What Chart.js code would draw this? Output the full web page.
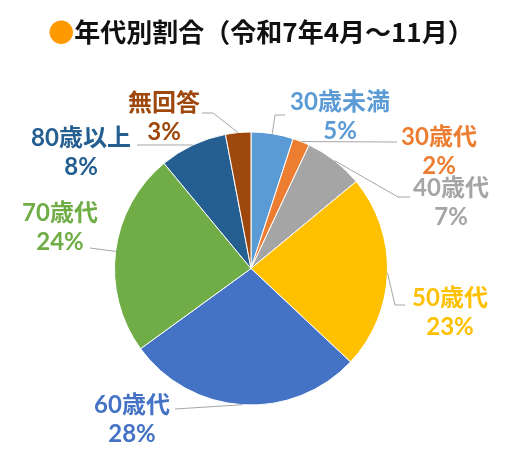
<!DOCTYPE html>
<html>
<head>
<meta charset="utf-8">
<script src="https://cdn.jsdelivr.net/npm/chart.js@4.4.1/dist/chart.umd.min.js"></script>
<style>
html,body{margin:0;padding:0;background:#fff;}
#wrap{width:514px;height:464px;}
</style>
</head>
<body>
<div id="wrap"><canvas id="c" width="514" height="464"></canvas></div>
<script>
// ---- data ----
const categories = ["30歳未満", "30歳代", "40歳代", "50歳代", "60歳代", "70歳代", "80歳以上", "無回答"];
const percents = [5, 2, 7, 23, 28, 24, 8, 3];
const colors = ["#5B9BD5", "#ED7D31", "#A5A5A5", "#FFC000", "#4472C4", "#70AD47", "#255E91", "#9E480E"];
const titleMark = "●";
const titleText = "年代別割合（令和7年4月～11月）";

// ---- label layout (offsets relative to pie centre, px) ----
const labelLayout = [
  {dx: 89,   dy: -166, pts: [[24, -153.5], [34, -153.5]]},
  {dx: 188,  dy: -131, pts: [[146, -126.5]]},
  {dx: 200,  dy: -80,  pts: [[147, -71.5], [159, -71.5]]},
  {dx: 199,  dy: 30,   pts: [[144, 36.5], [154, 36.5]]},
  {dx: -119, dy: 137,  pts: [[-76, 140.5]]},
  {dx: -191, dy: -55,  pts: [[-161, -20.5]]},
  {dx: -170, dy: -130, pts: [[-114, -123.5]]},
  {dx: -87,  dy: -165, pts: [[-38, -155.5], [-49, -155.5]]}
];

const labelFont = "bold 24px 'Lato', 'Noto Sans CJK JP', sans-serif";
const lineGap = 29;

const labelPlugin = {
  id: 'pieLabels',
  afterDatasetsDraw(chart) {
    const ctx = chart.ctx;
    const meta = chart.getDatasetMeta(0);
    ctx.save();
    meta.data.forEach((arc, i) => {
      const p = arc.getProps(['x', 'y', 'startAngle', 'endAngle', 'outerRadius'], true);
      const mid = (p.startAngle + p.endAngle) / 2;
      const ax = p.x + Math.cos(mid) * p.outerRadius;
      const ay = p.y + Math.sin(mid) * p.outerRadius;
      const L = labelLayout[i];
      ctx.beginPath();
      ctx.moveTo(ax, ay);
      L.pts.forEach(q => ctx.lineTo(p.x + q[0], p.y + q[1]));
      ctx.strokeStyle = '#A6A6A6';
      ctx.lineWidth = 1;
      ctx.stroke();
      ctx.font = labelFont;
      ctx.fillStyle = colors[i];
      ctx.textAlign = 'center';
      ctx.textBaseline = 'middle';
      ctx.fillText(categories[i], p.x + L.dx, p.y + L.dy);
      ctx.fillText(percents[i] + '%', p.x + L.dx, p.y + L.dy + lineGap);
    });
    ctx.restore();
  }
};

const titlePlugin = {
  id: 'customTitle',
  afterDraw(chart) {
    const ctx = chart.ctx;
    ctx.save();
    ctx.font = "bold 26px 'Noto Sans CJK JP', sans-serif";
    ctx.textBaseline = 'middle';
    ctx.textAlign = 'left';
    const w1 = ctx.measureText(titleMark).width;
    const w2 = ctx.measureText(titleText).width;
    const cx = 261, cy = 32;
    const x0 = cx - (w1 + w2) / 2;
    ctx.fillStyle = '#FF9900';
    ctx.fillText(titleMark, x0, cy);
    ctx.fillStyle = '#111111';
    ctx.fillText(titleText, x0 + w1, cy);
    ctx.restore();
  }
};

new Chart(document.getElementById('c'), {
  type: 'pie',
  data: {
    labels: categories,
    datasets: [{
      data: percents,
      backgroundColor: colors,
      borderColor: '#ffffff',
      borderWidth: 1
    }]
  },
  options: {
    responsive: false,
    animation: false,
    layout: {padding: {left: 114, right: 126, top: 131, bottom: 58}},
    plugins: {
      legend: {display: false},
      title: {display: false},
      tooltip: {enabled: true}
    }
  },
  plugins: [labelPlugin, titlePlugin]
});
</script>
</body>
</html>
